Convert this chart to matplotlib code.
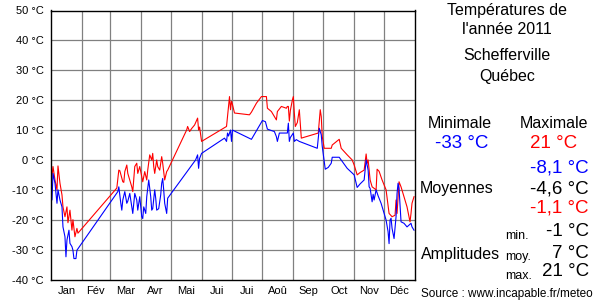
import matplotlib
matplotlib.use("Agg")
import matplotlib.pyplot as plt

plt.rcParams['font.family'] = ['Liberation Sans', 'DejaVu Sans']

# month layout (day of year)
month_starts = [0, 31, 59, 90, 120, 151, 181, 212, 243, 273, 304, 334, 365]
month_labels = ["Jan", "Fév", "Mar", "Avr", "Mai", "Jui", "Jui", "Aoû", "Sep", "Oct", "Nov", "Déc"]

# daily maxima (gaps are joined by straight lines)
max_days = [0, 2, 4, 6, 7, 9, 11, 12, 14, 16, 17, 19, 21, 22, 24, 26, 27,
            66, 68, 69, 72, 73, 74, 76, 77, 79, 81, 82, 84, 86, 87, 89, 91, 92, 94, 96, 97,
            99, 101, 102, 103, 104, 106, 107, 109, 111, 112, 113, 114, 116, 117,
            136, 137, 139, 141, 144, 147, 148, 149, 151,
            176, 177, 179, 180, 181, 182, 184, 199, 201, 206, 211, 216, 217, 221, 224, 226,
            227, 231, 236, 237, 238, 239, 240, 242, 243, 244, 245, 247, 249, 251,
            268, 270, 271, 272, 274, 281, 282, 289, 291, 297, 302, 304, 307, 310, 314,
            316, 317, 318, 320, 322, 326, 327, 329, 332, 336, 339, 342, 345, 346, 347,
            349, 351, 354, 357, 360, 361, 362, 364]
max_vals = [-8.4, -2.2, -6.7, -10, -2, -7.8, -11.7, -15.7, -19, -15.7, -21, -16.8, -23.5, -20, -25.7, -22.9, -24.5,
            -9.4, -3.4, -3.6, -7.3, -7.5, -3.9, -1.7, -4.5, -6.7, -9, -10.6, -2.2, -1.1, -4.5, -2.2, -5.6, -7.3, -3.9, -6.7, -3.4,
            1.7, 0, 2.2, -2.2, -4.5, 0, -2.2, -3.4, 1.1, -1.1, -3.9, -6.7, -3.9, -3.4,
            10, 11.2, 9.5, 10.5, 11.7, 14, 10, 11, 6.2,
            11.2, 14.5, 21.2, 16.8, 19.6, 18.5, 15.7, 15.1, 16, 19, 21.2, 21.2, 17.3, 16.2, 14.5, 13.4,
            16.2, 17.9, 17.3, 17.9, 17.9, 13, 16.5, 20, 21.2, 15.7, 11.2, 12.5, 16.8, 7.3,
            9, 16.8, 14.5, 7.8, 3.9, 3.9, 5, 6.9, 3.9, 1.7, 0, -1.7, -5, -4.2, -3.4,
            2, -1.1, 0, -6.7, -9, -10, -3.1, -3.8, -6.7, -10, -17.9, -19, -18.5, -13.4, -17.9,
            -7.3, -9, -12.3, -15.7, -20.7, -17.9, -14.5, -12.3]

# daily minima
min_days = [0, 1, 2, 4, 6, 7, 9, 11, 12, 14, 15, 16, 18, 19, 21, 22, 23, 25, 26,
            67, 68, 70, 71, 72, 74, 76, 77, 79, 81, 82, 84, 86, 87, 89, 91, 92, 93, 95, 96,
            98, 100, 101, 102, 104, 105, 106, 108, 110, 111, 112, 113, 114, 116, 117,
            145, 147, 148, 149, 151,
            174, 176, 177, 178, 180, 181, 182, 185, 201, 207, 212, 215, 217, 224, 226, 227,
            229, 237, 238, 239, 240, 242, 243, 244, 246, 249,
            267, 269, 271, 272, 273, 275, 278, 281, 282, 289, 292, 297, 304, 307, 310,
            314, 315, 316, 318, 319, 320, 322, 323, 324, 326, 328, 331, 334, 336, 338,
            339, 340, 341, 342, 344, 346, 347, 348, 349, 351, 354, 357, 359, 361, 362, 364]
min_vals = [-10, -13.4, -4.5, -7.8, -14.5, -10, -13.4, -15.7, -22.4, -25.7, -32.4, -26.8, -23.5, -27.9, -29, -30.2, -33, -33, -30.2,
            -10.6, -9, -14.5, -16.8, -13.4, -10.6, -14.5, -13.8, -11.2, -15.7, -17.9, -11.2, -13.4, -16.8, -12.3, -19, -19.6, -15.7, -17.9, -12.3,
            -6.7, -12.3, -16.8, -16.3, -10, -12.8, -16.8, -16.3, -11.7, -7.8, -6.2, -10, -14.5, -17.9, -12.8,
            0, 1.7, -2.8, 0.5, 2.2,
            7.3, 6.2, 9, 8, 10, 6.2, 10, 9.5, 6.9, 10.3, 13.2, 12.8, 10.3, 9.5, 7.8, 6.2,
            9, 9, 12.3, 6.2, 7.5, 8.5, 9, 6.2, 6.8, 6.2,
            3.9, 10.6, 8.4, 4.5, 2, -3.1, -2.5, -1.1, 0.9, 0.9, -0.5, -2.8, -5, -9.2, -8,
            -6.7, -3.4, 0, -3.4, -9, -9.5, -14, -11.5, -13.4, -10, -12, -14.5, -17.9, -20.1, -24,
            -28, -20.1, -19.5, -22.9, -26.3, -19, -11.2, -7.8, -9.5, -20.7, -21.2, -22.4, -21.8, -21.2, -22.4, -23.5]

y_ticks = list(range(-40, 51, 10))

fig = plt.figure(figsize=(6, 3), dpi=100)
ax = fig.add_axes([51 / 600, 1 - 279.5 / 300, (415 - 51) / 600, (279.5 - 10.5) / 300])

ax.plot(max_days, max_vals, color="#ff0000", lw=0.8)
ax.plot(min_days, min_vals, color="#0000ff", lw=0.8)

ax.set_xlim(0, 365)
ax.set_ylim(-40, 50)

for d in month_starts[1:-1]:
    ax.axvline(d, color="#808080", lw=0.9, zorder=0)
for t in y_ticks[1:-1]:
    ax.axhline(t, color="#808080", lw=0.9, zorder=0)

ax.set_yticks(y_ticks)
ax.set_yticklabels([f"{t} °C" for t in y_ticks], fontsize=8)
mids = [(month_starts[i] + month_starts[i + 1]) / 2 for i in range(12)]
ax.set_xticks(mids)
ax.set_xticklabels(month_labels, fontsize=8)
ax.tick_params(length=0, pad=5)
for s in ax.spines.values():
    s.set_color("black")
    s.set_linewidth(1)

# right-hand panel
def t(x, y, s, size=11.5, color="black", ha="center"):
    fig.text(x / 600, 1 - y / 300, s, fontsize=size, color=color, ha=ha, va="center")

t(507, 10, "Températures de")
t(507, 30, "l'année 2011")
t(507, 56, "Schefferville")
t(507, 77, "Québec")
t(460, 124, "Minimale")
t(554, 124, "Maximale")
t(462, 144, "-33 °C", 13.5, "#0000ff")
t(554, 144, "21 °C", 13.5, "#ff0000")
t(589, 168, "-8,1 °C", 13.5, "#0000ff", "right")
t(420, 189, "Moyennes", ha="left")
t(589, 189, "-4,6 °C", 13.5, ha="right")
t(589, 208, "-1,1 °C", 13.5, "#ff0000", "right")
t(505, 236, "min.", 9, ha="left")
t(589, 232, "-1 °C", 13.5, ha="right")
t(421, 254, "Amplitudes", ha="left")
t(505, 257, "moy.", 9, ha="left")
t(589, 254, "7 °C", 13.5, ha="right")
t(505, 276, "max.", 9, ha="left")
t(589, 272, "21 °C", 13.5, ha="right")
t(421, 294, "Source : www.incapable.fr/meteo", 8.5, ha="left")

fig.savefig("out.png", dpi=100)
